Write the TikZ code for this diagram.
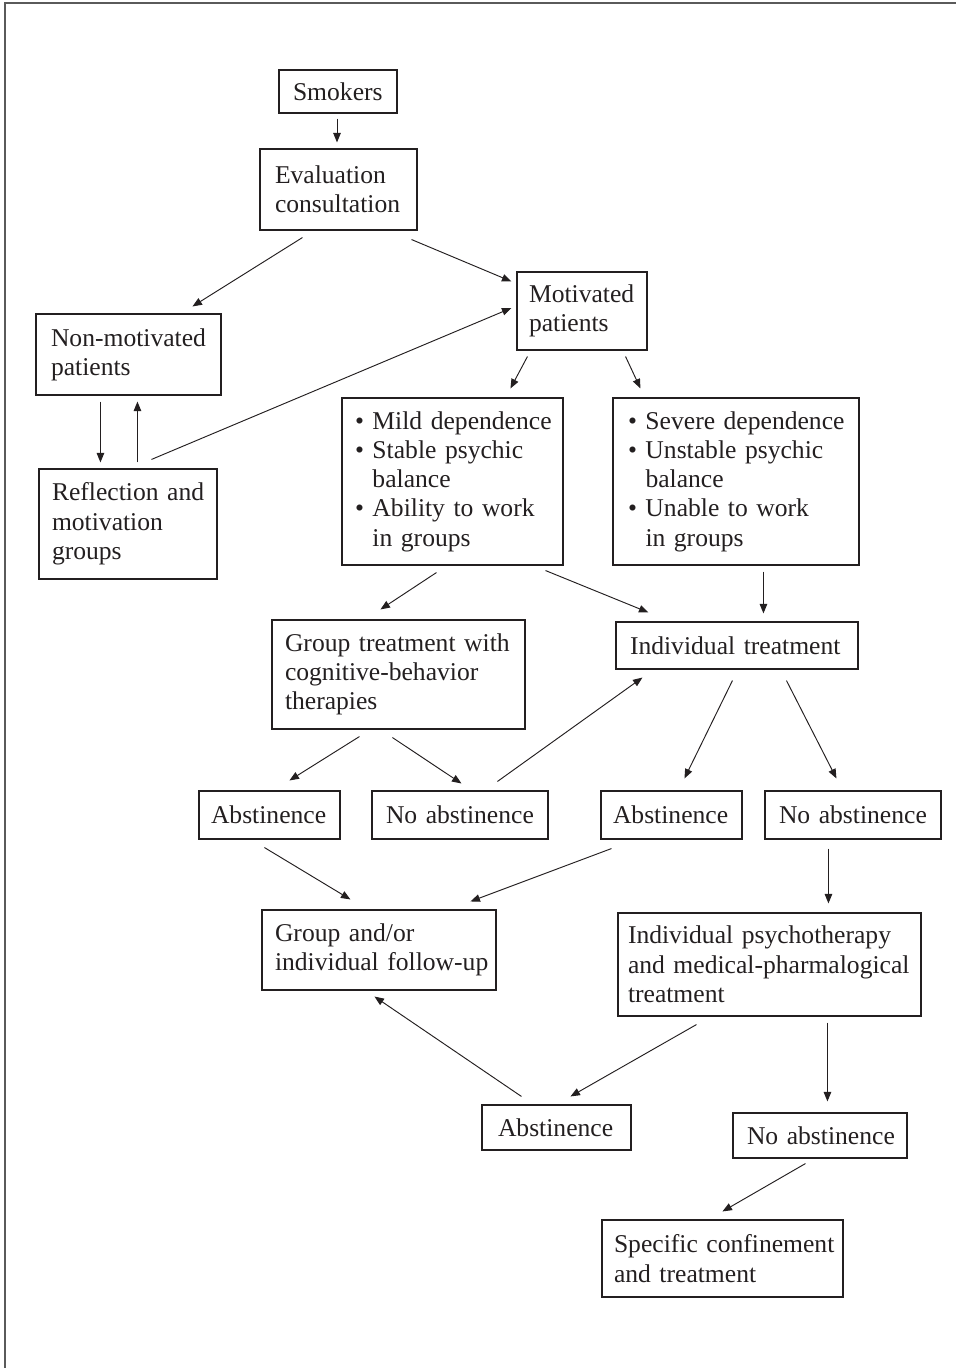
\documentclass[tikz,border=0pt]{standalone}
\usepackage{fontspec}
\setmainfont{Liberation Serif}
\usetikzlibrary{arrows.meta,calc}
\definecolor{ink}{RGB}{35,31,32}
\definecolor{framec}{RGB}{90,90,90}
\newcommand{\NL}[1]{\mbox{#1}}
\newcommand{\BL}[1]{\mbox{\textbullet\ #1}}
\newcommand{\HL}[1]{\mbox{\hphantom{\textbullet\ }#1}}
\begin{document}
\begin{tikzpicture}[x=1pt,y=-1pt,
  bx/.style={draw=ink, line width=1.1pt, inner ysep=0pt, align=left, text=ink,
    font=\fontsize{25.6}{29.3}\selectfont, anchor=center},
  arr/.style={draw=ink, line width=0.95pt, -{Triangle[length=9.5pt,width=7.5pt]}},
  framel/.style={draw=framec, line width=2pt}]
\useasboundingbox (0,0) rectangle (956,1368);
\draw[framel] (5,1368) -- (5,2.5) -- (956,2.5);

\node[bx, inner xsep=14pt, text width=90pt,  minimum height=43pt]  (smk)    at (338,91.5)   {\NL{Smokers}};
\node[bx, inner xsep=15pt, text width=127pt, minimum height=81pt]  (eval)   at (338.5,189.5){\NL{Evaluation}\\\NL{consultation}};
\node[bx, inner xsep=12pt, text width=106pt, minimum height=78pt]  (mot)    at (582,311)    {\NL{Motivated}\\\NL{patients}};
\node[bx, inner xsep=15pt, text width=155pt, minimum height=81pt]  (nonmot) at (128.5,354.5){\NL{Non-motivated}\\\NL{patients}};
\node[bx, inner xsep=13pt, text width=152pt, minimum height=110pt] (refl)   at (128,524)    {\NL{Reflection and}\\\NL{motivation}\\\NL{groups}};
\node[bx, inner xsep=13pt, text width=195pt, minimum height=167pt] (mild)   at (452.5,481.5){\BL{Mild dependence}\\\BL{Stable psychic}\\\HL{balance}\\\BL{Ability to work}\\\HL{in groups}};
\node[bx, inner xsep=15pt, text width=216pt, minimum height=167pt] (sev)    at (736,481.5)  {\BL{Severe dependence}\\\BL{Unstable psychic}\\\HL{balance}\\\BL{Unable to work}\\\HL{in groups}};
\node[bx, inner xsep=13pt, text width=227pt, minimum height=109pt] (grp)    at (398.5,674.5){\NL{Group treatment with}\\\NL{cognitive-behavior}\\\NL{therapies}};
\node[bx, inner xsep=14pt, text width=214pt, minimum height=47pt]  (ind)    at (737,645.5)  {\NL{Individual treatment}};
\node[bx, inner xsep=12pt, text width=117pt, minimum height=48pt]  (ab1)    at (269.5,815)  {\NL{Abstinence}};
\node[bx, inner xsep=14pt, text width=148pt, minimum height=48pt]  (nab1)   at (460,815)    {\NL{No abstinence}};
\node[bx, inner xsep=12pt, text width=117pt, minimum height=48pt]  (ab2)    at (671.5,815)  {\NL{Abstinence}};
\node[bx, inner xsep=14pt, text width=148pt, minimum height=48pt]  (nab2)   at (853,815)    {\NL{No abstinence}};
\node[bx, inner xsep=13pt, text width=208pt, minimum height=80pt]  (fup)    at (379,950)    {\NL{Group and/or}\\\NL{individual follow-up}};
\node[bx, inner xsep=10pt, text width=283pt, minimum height=103pt] (psy)    at (769.5,964.5){\NL{Individual psychotherapy}\\\NL{and medical-pharmalogical}\\\NL{treatment}};
\node[bx, inner xsep=16pt, text width=117pt, minimum height=45pt]  (ab3)    at (556.5,1127.5){\NL{Abstinence}};
\node[bx, inner xsep=14pt, text width=146pt, minimum height=45pt]  (nab3)   at (820,1135.5) {\NL{No abstinence}};
\node[bx, inner xsep=12pt, text width=217pt, minimum height=77pt]  (spec)   at (722.5,1258.5){\NL{Specific confinement}\\\NL{and treatment}};

% connectors
\draw[arr] ($(smk.south)+(-1,5)$) -- ($(eval.north)+(-1.5,-6)$);
\draw[arr] ($(eval.south west)+(43,7)$) -- ($(nonmot.north west)+(157,-7)$);
\draw[arr] ($(eval.south east)+(-6,9)$) -- ($(mot.north west)+(-5,10)$);
\draw[arr] ($(nonmot.south west)+(65,6)$) -- ($(refl.north west)+(62,-6)$);
\draw[arr] ($(refl.north west)+(99,-6)$) -- ($(nonmot.south west)+(102,6)$);
\draw[arr] ($(refl.north west)+(113,-9)$) -- ($(mot.west)+(-5,-3)$);
\draw[arr] ($(mot.south west)+(11,6)$) -- ($(mild.north west)+(169,-9)$);
\draw[arr] ($(mot.south east)+(-22,6)$) -- ($(sev.north west)+(28,-9)$);
\draw[arr] ($(mild.south west)+(95,7)$) -- ($(grp.north west)+(109,-10)$);
\draw[arr] ($(mild.south east)+(-18,5)$) -- ($(ind.north west)+(33,-9)$);
\draw[arr] ($(sev.south west)+(151,6)$) -- ($(ind.north west)+(148,-8)$);
\draw[arr] ($(grp.south west)+(88,7)$) -- ($(ab1.north west)+(91,-10)$);
\draw[arr] ($(grp.south west)+(121,8)$) -- ($(nab1.north west)+(90,-7)$);
\draw[arr] ($(nab1.north west)+(126,-9)$) -- ($(ind.south west)+(27,8)$);
\draw[arr] ($(ind.south west)+(117,11)$) -- ($(ab2.north west)+(84,-12)$);
\draw[arr] ($(ind.south west)+(171,11)$) -- ($(nab2.north west)+(72,-12)$);
\draw[arr] ($(ab1.south west)+(66,8)$) -- ($(fup.north west)+(89,-10)$);
\draw[arr] ($(ab2.south west)+(11,9)$) -- ($(fup.north west)+(209,-8)$);
\draw[arr] ($(nab2.south west)+(64,9)$) -- ($(psy.north west)+(211,-9)$);
\draw[arr] ($(psy.south west)+(79,8)$) -- ($(ab3.north west)+(89,-8)$);
\draw[arr] ($(ab3.north west)+(40,-8)$) -- ($(fup.south west)+(113,6)$);
\draw[arr] ($(psy.south west)+(210,6)$) -- ($(nab3.north west)+(95,-11)$);
\draw[arr] ($(nab3.south west)+(73,5)$) -- ($(spec.north west)+(121,-8)$);
\end{tikzpicture}
\end{document}
